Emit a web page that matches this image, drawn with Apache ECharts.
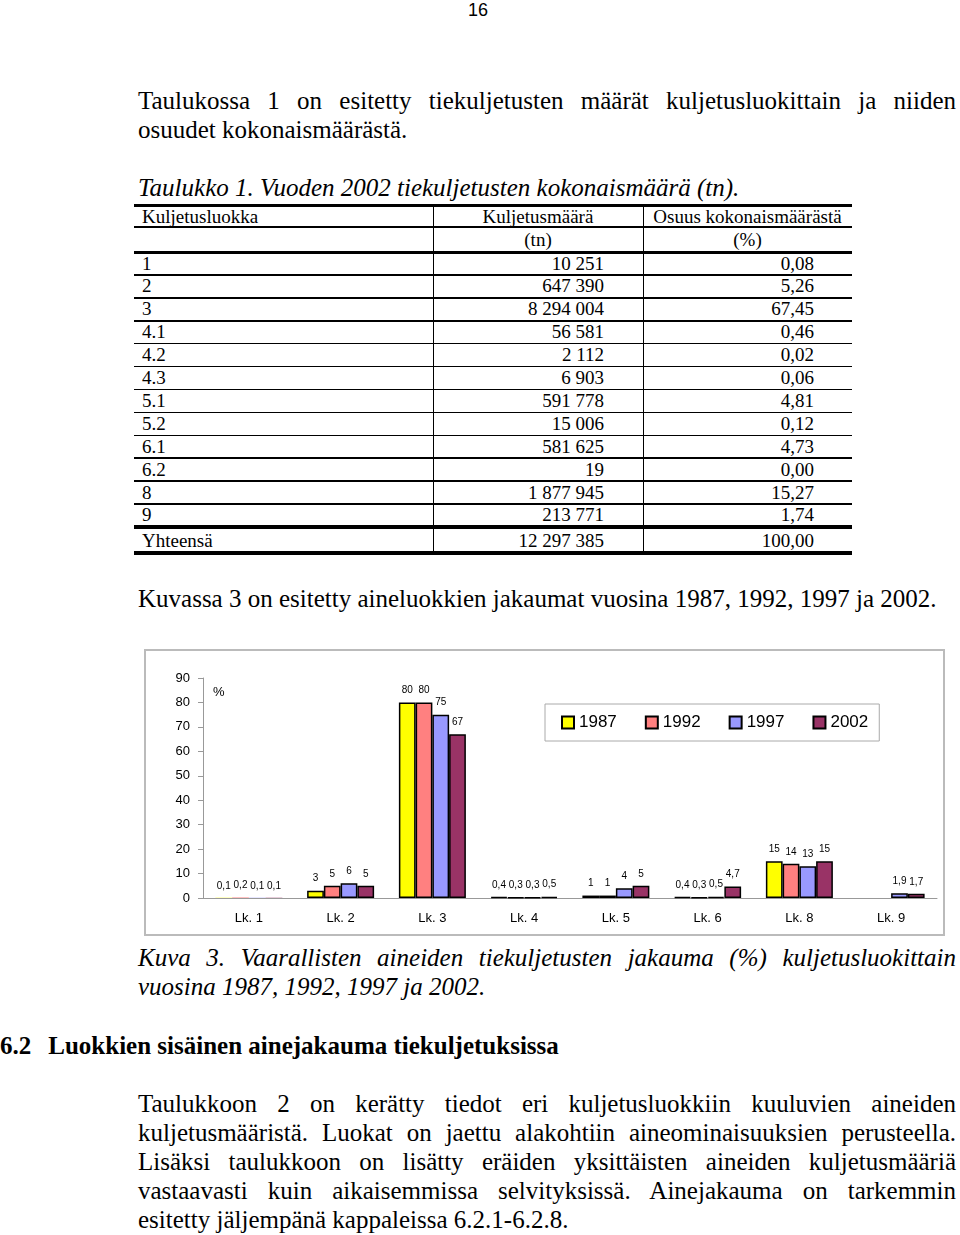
<!DOCTYPE html>
<html><head><meta charset="utf-8">
<script src="https://cdn.jsdelivr.net/npm/echarts@6/dist/echarts.min.js"></script>
<style>
html,body{margin:0;padding:0;background:#fff;}
body{width:960px;height:1235px;position:relative;overflow:hidden;font-family:"Liberation Serif","Times New Roman",serif;color:#000;}
.t{position:absolute;font-size:25px;line-height:29px;height:29px;white-space:pre;}
.j{width:818px;text-align:justify;text-align-last:justify;white-space:normal;}
.i{font-style:italic}
.b{font-weight:bold}
.cell{position:absolute;font-size:19px;line-height:22px;height:22px;white-space:pre;}
.hl{position:absolute;left:134px;width:718px;background:#000;}
.vl{position:absolute;width:1px;background:#000;top:205px;height:348px;}
#pn{position:absolute;left:0;width:956px;top:0;text-align:center;font-family:"Liberation Sans",Arial,sans-serif;font-size:18px;line-height:20px;}
#chart{position:absolute;left:140px;top:640px;width:820px;height:300px;}
</style></head>
<body>
<div id="pn">16</div>
<div class="t j" style="left:138px;top:86px">Taulukossa 1 on esitetty tiekuljetusten määrät kuljetusluokittain ja niiden</div>
<div class="t" style="left:138px;top:115px">osuudet kokonaismäärästä.</div>
<div class="t i" style="left:138px;top:173px">Taulukko 1. Vuoden 2002 tiekuljetusten kokonaismäärä (tn).</div>
<div id="table"></div>
<div class="t" style="left:138px;top:584px">Kuvassa 3 on esitetty aineluokkien jakaumat vuosina 1987, 1992, 1997 ja 2002.</div>
<div id="chart"></div>
<div class="t i j" style="left:138px;top:943px">Kuva 3. Vaarallisten aineiden tiekuljetusten jakauma (%) kuljetusluokittain</div>
<div class="t i" style="left:138px;top:972px">vuosina 1987, 1992, 1997 ja 2002.</div>
<div class="t b" style="left:0px;top:1031px">6.2<span style="display:inline-block;width:17px"></span>Luokkien sisäinen ainejakauma tiekuljetuksissa</div>
<div class="t j" style="left:138px;top:1089px">Taulukkoon 2 on kerätty tiedot eri kuljetusluokkiin kuuluvien aineiden</div>
<div class="t j" style="left:138px;top:1118px">kuljetusmääristä. Luokat on jaettu alakohtiin aineominaisuuksien perusteella.</div>
<div class="t j" style="left:138px;top:1147px">Lisäksi taulukkoon on lisätty eräiden yksittäisten aineiden kuljetusmääriä</div>
<div class="t j" style="left:138px;top:1176px">vastaavasti kuin aikaisemmissa selvityksissä. Ainejakauma on tarkemmin</div>
<div class="t" style="left:138px;top:1205px">esitetty jäljempänä kappaleissa 6.2.1-6.2.8.</div>
<script>
// ---- Table 1 data ----
var tableHeader = ['Kuljetusluokka', 'Kuljetusmäärä', 'Osuus kokonaismäärästä'];
var tableUnits = ['', '(tn)', '(%)'];
var tableClasses = ['1','2','3','4.1','4.2','4.3','5.1','5.2','6.1','6.2','8','9'];
var tableTonnes = ['10 251','647 390','8 294 004','56 581','2 112','6 903','591 778','15 006','581 625','19','1 877 945','213 771'];
var tableShares = ['0,08','5,26','67,45','0,46','0,02','0,06','4,81','0,12','4,73','0,00','15,27','1,74'];
var tableTotal = ['Yhteensä','12 297 385','100,00'];

// ---- Figure 3 data ----
var categories = ['Lk. 1','Lk. 2','Lk. 3','Lk. 4','Lk. 5','Lk. 6','Lk. 8','Lk. 9'];
var years = ['1987','1992','1997','2002'];
var v1987 = [0.1, 3, 80, 0.4, 1, 0.4, 15, null];
var v1992 = [0.2, 5, 80, 0.3, 1, 0.3, 14, null];
var v1997 = [0.1, 6, 75, 0.3, 4, 0.5, 13, 1.9];
var v2002 = [0.1, 5, 67, 0.5, 5, 4.7, 15, 1.7];
var yTicks = [0,10,20,30,40,50,60,70,80,90];
var colors = ['#FFFF00','#FF8080','#9999FF','#993366'];

// ---- build table ----
(function(){
  var t = document.getElementById('table');
  var html = '';
  function cell(text, left, width, cy, align){
    return '<div class="cell" style="left:'+left+'px;width:'+width+'px;top:'+(cy-11.5)+'px;text-align:'+align+'">'+text+'</div>';
  }
  function hl(y, h){ return '<div class="hl" style="top:'+(y-h/2)+'px;height:'+h+'px"></div>'; }
  html += hl(205,3) + hl(227,1.5) + hl(252,3);
  var pitch = 22.9;
  for (var i=0;i<11;i++) html += hl(275+i*pitch,1.5);
  html += hl(527,3.5) + hl(553,3.5);
  html += '<div class="vl" style="left:433px"></div><div class="vl" style="left:643px"></div>';
  html += cell(tableHeader[0],142,280,217,'left');
  html += cell(tableHeader[1],433,210,217,'center');
  html += cell(tableHeader[2],643,209,217,'center');
  html += cell(tableUnits[1],433,210,240,'center');
  html += cell(tableUnits[2],643,209,240,'center');
  for (var r=0;r<tableClasses.length;r++){
    var cy = 264 + r*pitch;
    html += cell(tableClasses[r],142,280,cy,'left');
    html += cell(tableTonnes[r],433,171,cy,'right');
    html += cell(tableShares[r],643,171,cy,'right');
  }
  html += cell(tableTotal[0],142,280,541,'left');
  html += cell(tableTotal[1],433,171,541,'right');
  html += cell(tableTotal[2],643,171,541,'right');
  t.innerHTML = html;
})();

// ---- chart ----
var chart = echarts.init(document.getElementById('chart'), null, {renderer:'canvas'});
var seriesData = [v1987, v1992, v1997, v2002];
var fontSans = 'Liberation Sans, Arial, sans-serif';
var option = {
  animation: false,
  textStyle: {fontFamily: fontSans},
  grid: {left:63, top:38, width:734, height:220},
  legend: {
    data: years, left:405, top:64, padding:[10,11,10,16],
    itemWidth:12, itemHeight:12, itemGap:28, icon:'rect',
    borderColor:'#aaa', borderWidth:1,
    textStyle:{fontSize:17, color:'#000', fontFamily:fontSans}
  },
  xAxis: {
    type:'category', data:categories,
    axisLine:{lineStyle:{color:'#999', width:1}},
    axisTick:{length:5, lineStyle:{color:'#999'}},
    axisLabel:{fontSize:13, color:'#000', margin:14, fontFamily:fontSans}
  },
  yAxis: {
    type:'value', min:yTicks[0], max:yTicks[yTicks.length-1], interval:yTicks[1]-yTicks[0],
    splitLine:{show:false},
    axisLine:{show:true, lineStyle:{color:'#999', width:1}},
    axisTick:{show:true, length:5, lineStyle:{color:'#999'}},
    axisLabel:{fontSize:13, color:'#000', margin:13, fontFamily:fontSans}
  },
  graphic: [
    {type:'rect', shape:{x:5, y:10, width:799, height:285}, style:{fill:'none', stroke:'#bbb', lineWidth:2}, silent:true},
    {type:'text', x:73, y:52, style:{text:'%', fill:'#000', fontSize:13, fontFamily:fontSans, verticalAlign:'middle'}}
  ],
  series: years.map(function(y, k){
    return {
      name:y, type:'bar',
      data: seriesData[k].map(function(v){
        // bars far below one pixel tall are not drawn visibly in the original
        return (v != null && v < 0.25) ? {value:v, itemStyle:{borderWidth:0}} : v;
      }),
      barGap:'0%', barCategoryGap:'27%',
      itemStyle:{color:colors[k], borderColor:'#000', borderWidth:1.5},
      label:{show:true, position:'top', distance:7, fontSize:10, color:'#000', fontFamily:fontSans,
        formatter:function(p){ return p.value == null ? '' : String(p.value).replace('.', ','); }}
    };
  })
};
chart.setOption(option);
</script>
</body></html>
